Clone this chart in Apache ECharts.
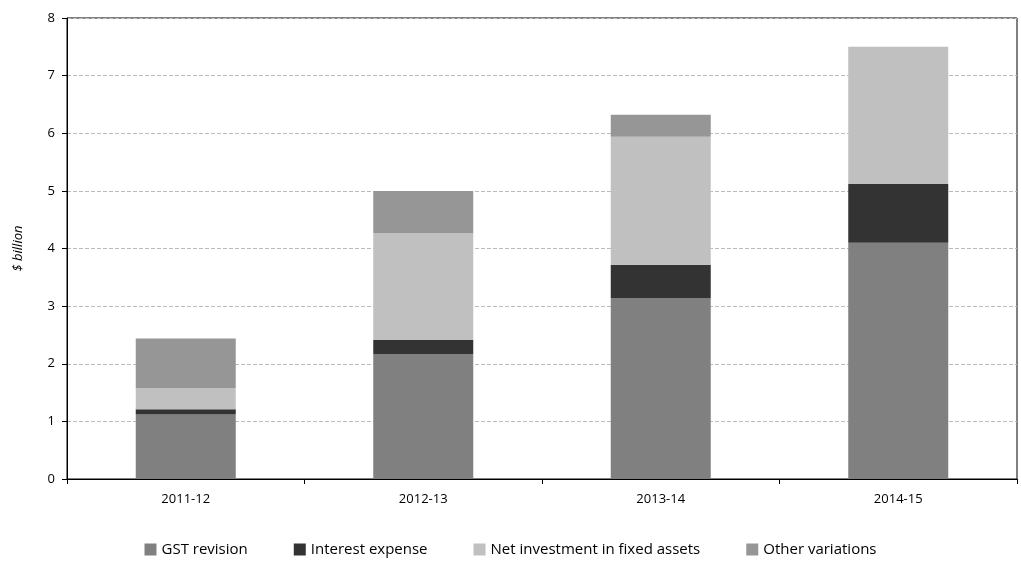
<!DOCTYPE html>
<html><head><meta charset="utf-8">
<script src="https://cdn.jsdelivr.net/npm/echarts@6/dist/echarts.min.js"></script>
<style>html,body{margin:0;background:#fff}#main{width:1021px;height:567px}</style>
</head><body><div id="main"></div>
<script>
var categories = ['2011-12', '2012-13', '2013-14', '2014-15'];
var gstRevision = [1.12, 2.17, 3.14, 4.10];
var interestExpense = [0.09, 0.24, 0.58, 1.02];
var netInvestment = [0.37, 1.86, 2.22, 2.38];
var otherVariations = [0.86, 0.73, 0.38, 0];

var myChart = echarts.init(document.getElementById('main'));
function s(name, data, color) {
    return { name: name, type: 'bar', stack: 'a', data: data, barWidth: 100,
             itemStyle: { color: color }, emphasis: { disabled: true } };
}
var option = {
    animation: false,
    textStyle: { fontFamily: 'Open Sans', color: '#000' },
    grid: { left: 67, right: 4, top: 18, bottom: 88, show: true, borderColor: '#000', borderWidth: 1 },
    legend: {
        bottom: 5, left: 'center', itemWidth: 12, itemHeight: 12, itemGap: 46,
        icon: 'rect', textStyle: { fontSize: 15, color: '#000' },
        data: ['GST revision', 'Interest expense', 'Net investment in fixed assets', 'Other variations']
    },
    xAxis: {
        type: 'category', data: categories,
        axisLine: { lineStyle: { color: '#000' } },
        axisTick: { show: true, lineStyle: { color: '#000' } },
        axisLabel: { color: '#000', fontSize: 13, margin: 14 }
    },
    yAxis: {
        type: 'value', min: 0, max: 8, interval: 1,
        name: '$ billion', nameLocation: 'middle', nameGap: 42,
        nameTextStyle: { fontStyle: 'italic', fontSize: 13 },
        axisLine: { show: true, lineStyle: { color: '#000' } },
        axisTick: { show: true, lineStyle: { color: '#000' } },
        axisLabel: { color: '#000', fontSize: 13, margin: 12 },
        splitLine: { lineStyle: { type: 'dashed', color: '#bbb' } }
    },
    series: [
        s('GST revision', gstRevision, '#808080'),
        s('Interest expense', interestExpense, '#333333'),
        s('Net investment in fixed assets', netInvestment, '#c0c0c0'),
        s('Other variations', otherVariations, '#969696')
    ]
};
myChart.setOption(option);
</script></body></html>
